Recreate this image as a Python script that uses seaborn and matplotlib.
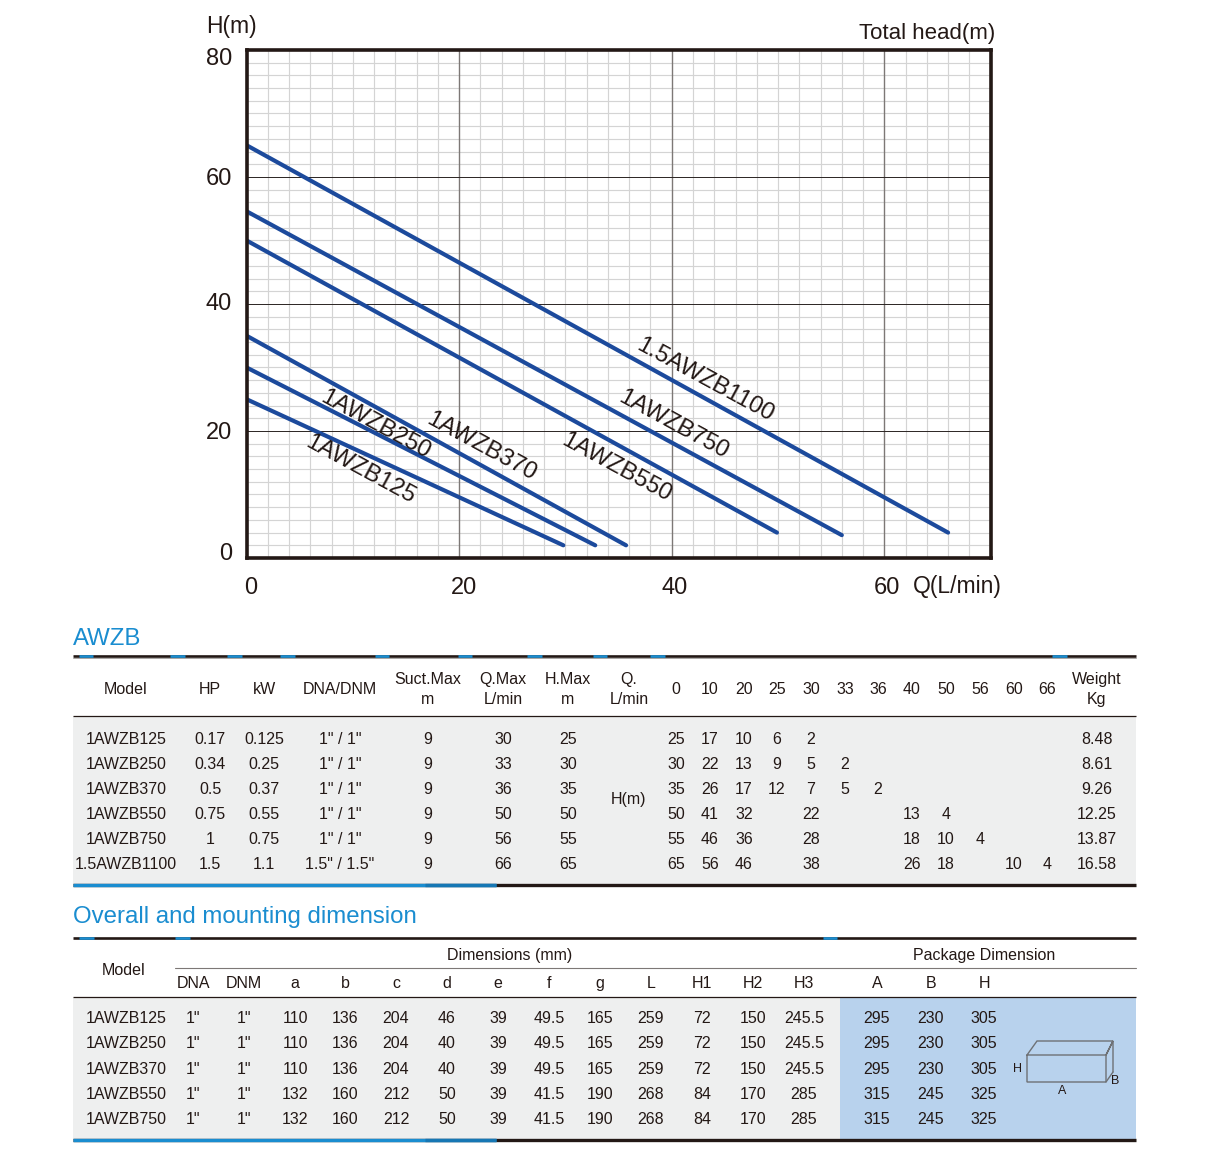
import matplotlib
matplotlib.use("Agg")
import matplotlib.pyplot as plt
import pandas as pd
import seaborn as sns
from matplotlib.patches import Rectangle
from matplotlib.transforms import ScaledTranslation

# ---------- data ----------
models = ["1AWZB125", "1AWZB250", "1AWZB370", "1AWZB550", "1AWZB750", "1.5AWZB1100"]
hp = ["0.17", "0.34", "0.5", "0.75", "1", "1.5"]
kw = ["0.125", "0.25", "0.37", "0.55", "0.75", "1.1"]
dna_dnm = ['1" / 1"'] * 5 + ['1.5" / 1.5"']
suct = ["9"] * 6
qmax = [30, 33, 36, 50, 56, 66]
hmax = [25, 30, 35, 50, 55, 65]
q_points = ["0", "10", "20", "25", "30", "33", "36", "40", "50", "56", "60", "66"]
h_125 = ["25", "17", "10", "6", "2", "", "", "", "", "", "", ""]
h_250 = ["30", "22", "13", "9", "5", "2", "", "", "", "", "", ""]
h_370 = ["35", "26", "17", "12", "7", "5", "2", "", "", "", "", ""]
h_550 = ["50", "41", "32", "", "22", "", "", "13", "4", "", "", ""]
h_750 = ["55", "46", "36", "", "28", "", "", "18", "10", "4", "", ""]
h_1100 = ["65", "56", "46", "", "38", "", "", "26", "18", "", "10", "4"]
weights = ["8.48", "8.61", "9.26", "12.25", "13.87", "16.58"]

curve_h_start = [25, 30, 35, 50, 54.6, 65]
curve_h_end = [2, 2, 2, 4, 3.6, 4]
curve_q_end = [29.8, 32.8, 35.7, 49.9, 56, 66]

dim_models = models[:5]
dim_headers = ["DNA", "DNM", "a", "b", "c", "d", "e", "f", "g", "L", "H1", "H2", "H3", "A", "B", "H"]
dim_dna = ['1"'] * 5
dim_dnm = ['1"'] * 5
dim_a = ["110", "110", "110", "132", "132"]
dim_b = ["136", "136", "136", "160", "160"]
dim_c = ["204", "204", "204", "212", "212"]
dim_d = ["46", "40", "40", "50", "50"]
dim_e = ["39"] * 5
dim_f = ["49.5", "49.5", "49.5", "41.5", "41.5"]
dim_g = ["165", "165", "165", "190", "190"]
dim_L = ["259", "259", "259", "268", "268"]
dim_H1 = ["72", "72", "72", "84", "84"]
dim_H2 = ["150", "150", "150", "170", "170"]
dim_H3 = ["245.5", "245.5", "245.5", "285", "285"]
pkg_A = ["295", "295", "295", "315", "315"]
pkg_B = ["230", "230", "230", "245", "245"]
pkg_H = ["305", "305", "305", "325", "325"]

# ---------- style ----------
sns.set_theme(style="white")
plt.rcParams["font.family"] = ["Liberation Sans", "DejaVu Sans"]
INK = "#231815"
BLUE = "#1a8dd0"
LINE = "#1c4a9c"
W, H = 1209, 1157
fig = plt.figure(figsize=(W / 100, H / 100), dpi=100, facecolor="white")

# page layer in pixel coordinates
pg = fig.add_axes([0, 0, 1, 1], zorder=0)
pg.set_xlim(0, W)
pg.set_ylim(H, 0)
pg.axis("off")

# ---------- chart ----------
L, R, T, B = 246.6, 990.6, 50, 558
ax = fig.add_axes([L / W, 1 - B / H, (R - L) / W, (B - T) / H], zorder=2)
ax.patch.set_alpha(0)
curve = pd.DataFrame({
    "model": models + models,
    "Q": [0] * 6 + curve_q_end,
    "H": curve_h_start + curve_h_end,
})
sns.lineplot(data=curve, x="Q", y="H", units="model", estimator=None, color=LINE,
             linewidth=3.0, ax=ax, legend=False, zorder=5, sort=False)
ax.set_xlim(0, 70)
ax.set_ylim(0, 80)
ax.set_xlabel("")
ax.set_ylabel("")
x_major = [0, 20, 40, 60]
y_major = [0, 20, 40, 60, 80]
ax.set_xticks(x_major, [str(v) for v in x_major])
ax.set_yticks(y_major, [str(v) for v in y_major])
ax.set_xticks(range(0, 71, 2), minor=True)
ax.set_yticks(range(0, 81, 2), minor=True)
ax.grid(which="minor", color="#d4d4d4", linewidth=0.85)
ax.set_axisbelow(True)
for v in x_major[1:]:
    ax.axvline(v, color="#7d7876", linewidth=1.0, zorder=2)
for v in y_major[1:-1]:
    ax.axhline(v, color="#2a2422", linewidth=0.7, zorder=2)
ax.tick_params(which="both", length=0)
ax.tick_params(axis="x", which="major", labelsize=17, labelcolor=INK, pad=13.5)
ax.tick_params(axis="y", which="major", labelsize=17, labelcolor=INK, pad=10.5)
for s in ax.spines.values():
    s.set_visible(True)
    s.set_color(INK)
    s.set_linewidth(2.6)
    s.set_zorder(6)
x_shift = {0: 4.5, 20: 4.5, 40: 3, 60: 3}
for v, lab in zip(x_major, ax.get_xticklabels()):
    lab.set_transform(lab.get_transform() + ScaledTranslation(x_shift[v] / 100, 0, fig.dpi_scale_trans))
y_shift = {0: 6, 20: 0, 40: 2, 60: 0, 80: -7}
for v, lab in zip(y_major, ax.get_yticklabels()):
    lab.set_transform(lab.get_transform() + ScaledTranslation(0, y_shift[v] / 100, fig.dpi_scale_trans))

# labels around the chart live on a top layer
top = fig.add_axes([0, 0, 1, 1], zorder=3)
top.set_xlim(0, W)
top.set_ylim(H, 0)
top.axis("off")
curve_lab_xy = [(360, 470), (375, 425), (481, 447), (616, 468), (673, 425), (705, 380)]
for name, (x, y) in zip(models, curve_lab_xy):
    top.text(x, y, name, rotation=-28.5, rotation_mode="anchor", ha="center", va="center",
             fontsize=17.2, color=INK)
top.text(206, 27, "H(m)", fontsize=16.5, color=INK, va="center", ha="left")
top.text(995, 33, "Total head(m)", fontsize=16, color=INK, va="center", ha="right")
top.text(1002, 586, "Q(L/min)", fontsize=16.5, color=INK, va="center", ha="right")


def rule(y, segs, x0=73, x1=1136, lw=1.9):
    pg.plot([x0, x1], [y, y], color=INK, lw=lw, solid_capstyle="butt", zorder=3)
    for a, b in segs:
        pg.plot([a, b], [y, y], color=BLUE, lw=lw, solid_capstyle="butt", zorder=4)


def txt(x, y, s, size=11.5):
    pg.text(x, y + 1.5, s, fontsize=size, color=INK, ha="center", va="center")


# ---------- table 1 ----------
pg.text(73, 639, "AWZB", fontsize=17.3, color=BLUE, ha="left", va="center")
pg.add_patch(Rectangle((73, 716), 1063, 168, facecolor="#eeefef", edgecolor="none", zorder=1))
rule(656, [(79, 93), (170, 185), (227, 242), (280, 295), (375, 389), (458, 472),
           (527, 542), (593, 607), (650, 665), (1052, 1067)])
pg.plot([73, 1136], [658, 658], color="#9a9795", lw=0.6, zorder=2)
rule(715.5, [], lw=0.9)
rule(885, [(73, 496)], lw=2.4)
pg.plot([425, 496], [885, 885], color="#1677b4", lw=2.4, solid_capstyle="butt", zorder=5)

col_x = [126, 210, 264, 340, 428, 503, 568]
hdr_one = [(126, "Model"), (210, "HP"), (264, "kW"), (340, "DNA/DNM")]
for x, s in hdr_one:
    txt(x, 688, s)
for x, a, b in [(428, "Suct.Max", "m"), (503, "Q.Max", "L/min"), (568, "H.Max", "m"),
                (629, "Q.", "L/min"), (1097, "Weight", "Kg")]:
    txt(x, 678, a)
    txt(x, 698, b)
q_x = [676, 710, 744, 777, 811, 845, 878, 912, 946, 980, 1014, 1047]
for x, s in zip(q_x, q_points):
    txt(x, 688, s)
row_y = [738, 763, 788, 813, 838, 863]
head_rows = [h_125, h_250, h_370, h_550, h_750, h_1100]
for i, y in enumerate(row_y):
    cells = [models[i], hp[i], kw[i], dna_dnm[i], suct[i], str(qmax[i]), str(hmax[i])]
    for x, s in zip(col_x, cells):
        txt(x, y, s)
    for x, s in zip(q_x, head_rows[i]):
        if s:
            txt(x, y, s)
    txt(1097, y, weights[i])
txt(629, 798, "H(m)")

# ---------- table 2 ----------
pg.text(73, 917, "Overall and mounting dimension", fontsize=17.3, color=BLUE, ha="left", va="center")
pg.add_patch(Rectangle((73, 998), 767, 141, facecolor="#eeefef", edgecolor="none", zorder=1))
pg.add_patch(Rectangle((840, 998), 296, 141, facecolor="#b8d2ed", edgecolor="none", zorder=1))
rule(938, [(79, 94), (175, 190), (823, 837)])
pg.plot([175, 1136], [968, 968], color="#7d7876", lw=0.8, zorder=2)
rule(997, [], lw=0.9)
rule(1140, [(73, 496)], lw=2.4)
pg.plot([425, 496], [1140, 1140], color="#1677b4", lw=2.4, solid_capstyle="butt", zorder=5)

txt(124, 969, "Model")
txt(510, 954, "Dimensions (mm)")
txt(984, 954, "Package Dimension")
d_x = [193, 244, 295, 345, 396, 447, 498, 549, 600, 651, 702, 753, 804, 877, 931, 984]
for x, s in zip(d_x, dim_headers):
    txt(x, 982, s)
d_cols = [dim_dna, dim_dnm, dim_a, dim_b, dim_c, dim_d, dim_e, dim_f, dim_g, dim_L,
          dim_H1, dim_H2, dim_H3, pkg_A, pkg_B, pkg_H]
d_y = [1017, 1042, 1068, 1093, 1118]
for i, y in enumerate(d_y):
    txt(126, y, dim_models[i])
    for x, col in zip(d_x, d_cols):
        txt(x, y, col[i])

# package sketch
box_x = [1027, 1106, 1106, 1027, 1027, 1037, 1113, 1106, 1113, 1113]
box_y = [1055, 1055, 1082, 1082, 1055, 1041, 1041, 1055, 1041, 1072]
pg.plot(box_x, box_y, color="#6e7175", lw=1.0, zorder=3, solid_joinstyle="miter")
pg.plot([1106, 1113], [1082, 1072], color="#6e7175", lw=1.0, zorder=3)
txt(1017, 1067, "H", size=9)
txt(1062, 1090, "A", size=9)
txt(1115, 1079, "B", size=9)

fig.savefig("out.png", dpi=100, facecolor="white")
